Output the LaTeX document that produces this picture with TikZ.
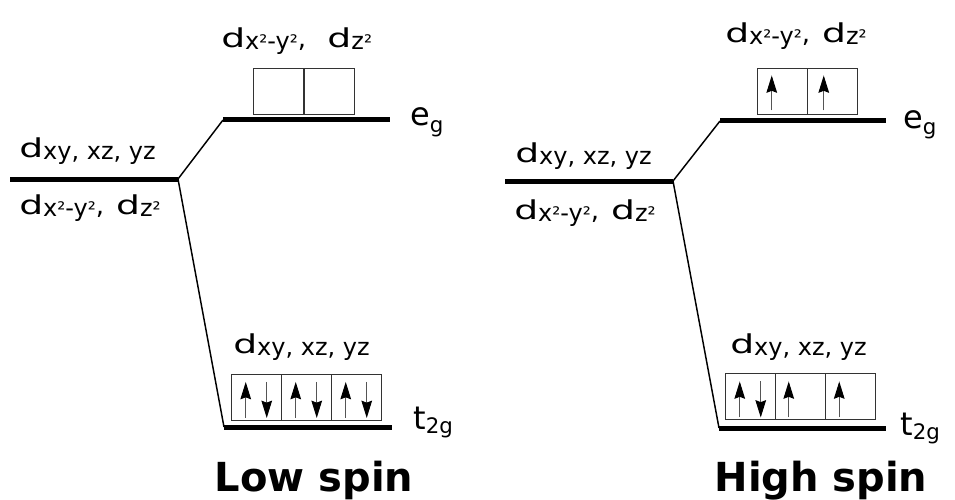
\documentclass[tikz,border=0pt]{standalone}
\usepackage{fontspec}
\setmainfont{DejaVu Sans}
\usepackage{graphicx}
\usetikzlibrary{arrows.meta}
\definecolor{boxgray}{HTML}{333333}
\definecolor{shaftgray}{HTML}{555555}
\newcommand{\lblfont}{\fontsize{19.5}{22}\selectfont}
\newcommand{\subfont}{\fontsize{18}{20}\selectfont}
\newcommand{\termfont}{\fontsize{24}{28}\selectfont}
\newcommand{\tsubfont}{\fontsize{16}{18}\selectfont}
\newcommand{\sqr}{{\fontsize{15}{15}\selectfont ²}}
\newcommand{\dsub}[1]{\scalebox{1.45}[1]{d}\raisebox{-1.5pt}{\subfont #1}}
\tikzset{
  level/.style={line width=3.75pt},
  link/.style={line width=1.1pt},
  orbbox/.style={draw=boxgray,line width=1.1pt,minimum width=37.5pt,minimum height=34.5pt,inner sep=0pt,anchor=north west},
  spinup/.style={-{Stealth[length=13pt,width=8pt,inset=1.5pt,color=black]},line width=0.75pt,shaftgray},
  orblabel/.style={font=\lblfont,inner sep=0pt,anchor=base west},
  termlabel/.style={font=\termfont,inner sep=0pt,anchor=base west},
  spinlabel/.style={font=\fontsize{30}{34}\selectfont\bfseries,inner sep=0pt,anchor=base}
}

\begin{document}
\begin{tikzpicture}[x=0.75pt,y=-0.75pt]
  \useasboundingbox (0,0) rectangle (955,499);
  % low spin
  \coordinate (ls-deg-l) at (10,179);
  \coordinate (ls-deg-r) at (178,179);
  \coordinate (ls-eg-l) at (223,120);
  \coordinate (ls-eg-r) at (390,120);
  \coordinate (ls-t-l) at (224,427);
  \coordinate (ls-t-r) at (392,427);
  \draw[level] (ls-deg-l) -- (ls-deg-r);
  \draw[level] (ls-eg-l) -- (ls-eg-r);
  \draw[level] (ls-t-l) -- (ls-t-r);
  \draw[link] (ls-deg-r) -- (ls-eg-l);
  \draw[link] (ls-deg-r) -- (ls-t-l);
  \node[orbbox] (ls-eg1) at (253,68) {};
  \node[orbbox] (ls-eg2) at (303.5,68) {};
  \node[orbbox] (ls-t1) at (231,373.5) {};
  \node[orbbox] (ls-t2) at (281,373.5) {};
  \node[orbbox] (ls-t3) at (331,373.5) {};
  \draw[spinup] ([shift={(-11,-3)}]ls-t1.south) -- ++(0,-36);
  \draw[spinup] ([shift={(10,-39)}]ls-t1.south) -- ++(0,36);
  \draw[spinup] ([shift={(-11,-3)}]ls-t2.south) -- ++(0,-36);
  \draw[spinup] ([shift={(10,-39)}]ls-t2.south) -- ++(0,36);
  \draw[spinup] ([shift={(-11,-3)}]ls-t3.south) -- ++(0,-36);
  \draw[spinup] ([shift={(10,-39)}]ls-t3.south) -- ++(0,36);
  \node[orblabel] (ls-eg-lbl) at (221,48) {\dsub{x\sqr-y\sqr},\hspace{16pt}\dsub{z\sqr}};
  \node[orblabel] (ls-deg-top) at (19,157) {\dsub{xy, xz, yz}};
  \node[orblabel] (ls-deg-bot) at (19,214) {\dsub{x\sqr-y\sqr},\hspace{9pt}\dsub{z\sqr}};
  \node[orblabel] (ls-t-lbl) at (233,353) {\dsub{xy, xz, yz}};
  \node[termlabel] (ls-eg-term) at (410,126) {e\raisebox{-5pt}{\tsubfont g}};
  \node[termlabel] (ls-t-term) at (413,429) {t\raisebox{-3.5pt}{\tsubfont 2g}};
  \node[spinlabel] (ls-title) at (314,491) {Low spin};
  % high spin
  \coordinate (hs-deg-l) at (505,181);
  \coordinate (hs-deg-r) at (673,181);
  \coordinate (hs-eg-l) at (720,121);
  \coordinate (hs-eg-r) at (886,121);
  \coordinate (hs-t-l) at (719,428);
  \coordinate (hs-t-r) at (886,428);
  \draw[level] (hs-deg-l) -- (hs-deg-r);
  \draw[level] (hs-eg-l) -- (hs-eg-r);
  \draw[level] (hs-t-l) -- (hs-t-r);
  \draw[link] (hs-deg-r) -- (hs-eg-l);
  \draw[link] (hs-deg-r) -- (hs-t-l);
  \node[orbbox] (hs-eg1) at (757,68) {};
  \node[orbbox] (hs-eg2) at (807,68) {};
  \node[orbbox] (hs-t1) at (725,373) {};
  \node[orbbox] (hs-t2) at (775,373) {};
  \node[orbbox] (hs-t3) at (824.5,373) {};
  \draw[spinup] ([shift={(-11,-5)}]hs-eg1.south) -- ++(0,-35);
  \draw[spinup] ([shift={(-9,-5)}]hs-eg2.south) -- ++(0,-35);
  \draw[spinup] ([shift={(-11,-3)}]hs-t1.south) -- ++(0,-36);
  \draw[spinup] ([shift={(10,-39)}]hs-t1.south) -- ++(0,36);
  \draw[spinup] ([shift={(-12,-3)}]hs-t2.south) -- ++(0,-36);
  \draw[spinup] ([shift={(-11,-3)}]hs-t3.south) -- ++(0,-36);
  \node[orblabel] (hs-eg-lbl) at (725,43) {\dsub{x\sqr-y\sqr},\hspace{9pt}\dsub{z\sqr}};
  \node[orblabel] (hs-deg-top) at (515,162) {\dsub{xy, xz, yz}};
  \node[orblabel] (hs-deg-bot) at (514,219) {\dsub{x\sqr-y\sqr},\hspace{9pt}\dsub{z\sqr}};
  \node[orblabel] (hs-t-lbl) at (730,353) {\dsub{xy, xz, yz}};
  \node[termlabel] (hs-eg-term) at (903,128) {e\raisebox{-5pt}{\tsubfont g}};
  \node[termlabel] (hs-t-term) at (900,435) {t\raisebox{-3.5pt}{\tsubfont 2g}};
  \node[spinlabel] (hs-title) at (821,491) {High spin};
\end{tikzpicture}
\end{document}
